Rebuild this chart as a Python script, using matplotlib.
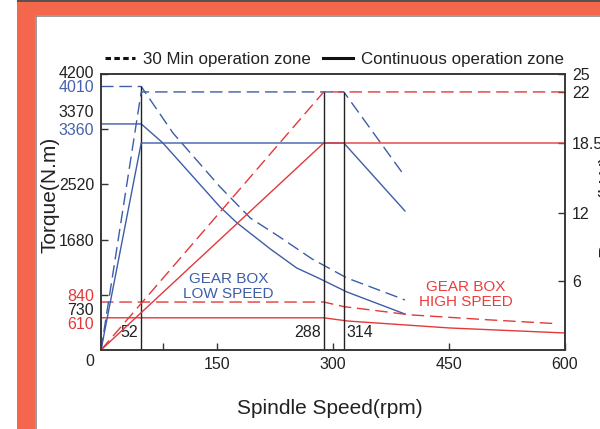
"""
Spindle torque / power diagram (gear box low & high speed).
"""

import numpy as np
import matplotlib
matplotlib.use('Agg')
import matplotlib.pyplot as plt
from matplotlib.lines import Line2D
from matplotlib.patches import Rectangle
from matplotlib.transforms import offset_copy

plt.rcParams['font.family'] = ['Liberation Sans', 'DejaVu Sans']

# ---- data ----
# gear box low speed, torque (N.m)
rpm_low_s6_torque = [0, 52, 93, 154, 193, 231, 273, 318, 383, 393]
torque_low_s6 = [4010, 4010, 3303, 2481, 2009, 1720, 1385, 1096, 807, 761]
rpm_low_s1_torque = [0, 52, 80, 154, 176, 219, 253, 281, 318, 393]
torque_low_s1 = [3440, 3440, 3151, 2176, 1933, 1537, 1248, 1096, 883, 548]

# gear box low speed, power (kW)
rpm_low_power = [0, 52, 314, 393]
power_low_s6 = [0, 22, 22, 15.4]
power_low_s1 = [0, 18.5, 18.5, 12.2]

# gear box high speed, torque (N.m)
rpm_high_s6_torque = [0, 288, 314, 400, 500, 590]
torque_high_s6 = [730, 730, 660, 535, 460, 400]
rpm_high_s1_torque = [0, 288, 319, 451, 600]
torque_high_s1 = [490, 490, 441, 335, 259]

# gear box high speed, power (kW)
rpm_high_power = [0, 288, 600]
power_high_s6 = [0, 22, 22]
power_high_s1 = [0, 18.5, 18.5]

# base speeds marked on the chart
base_speeds = [52, 288, 314]

# axis ticks
x_ticks = [150, 300, 450, 600]
torque_ticks = [840, 1680, 2520, 3360, 4200]
torque_tick_colors = ['red', 'k', 'k', 'blue', 'k']
power_ticks = [6, 12, 18.5, 22, 25]

# the power axis in the reference is drawn unevenly; calibration of
# value -> relative height (0..1) taken from the printed tick positions
power_cal_values = [0, 6, 12, 18.5, 22, 25]
power_cal_heights = [0, 0.25, 0.496, 0.75, 0.935, 1.0]

BLUE = '#3d5da8'
RED = '#e3393a'
TXT = '#222222'
COLS = {'red': '#e3393a', 'blue': '#4563ab', 'k': TXT}


def p_fwd(v):
    v = np.asarray(v, dtype=float)
    return np.interp(v, power_cal_values, power_cal_heights,
                     left=-1, right=2)


def p_inv(h):
    h = np.asarray(h, dtype=float)
    return np.interp(h, power_cal_heights, power_cal_values)


fig = plt.figure(figsize=(6, 4.29), dpi=100)
fig.patch.set_facecolor('white')

# page frame (orange border of the source page)
fig.patches.append(Rectangle((17/600, 0), 18/600, 1, transform=fig.transFigure,
                             facecolor='#f4674c', edgecolor='none', zorder=0))
fig.patches.append(Rectangle((17/600, 1 - 15/429), 583/600, 15/429,
                             transform=fig.transFigure,
                             facecolor='#f4674c', edgecolor='none', zorder=0))
fig.patches.append(Rectangle((17/600, 1 - 2/429), 583/600, 2/429,
                             transform=fig.transFigure,
                             facecolor='#5a5250', edgecolor='none', zorder=1))
fig.lines.append(Line2D([35.5/600, 35.5/600], [0, 1 - 15.5/429],
                        transform=fig.transFigure, color='#8a8a8a', lw=1.2))
fig.lines.append(Line2D([35.5/600, 1], [1 - 15.5/429, 1 - 15.5/429],
                        transform=fig.transFigure, color='#8a8a8a', lw=1.2))

ax = fig.add_axes([101/600, 1 - 350/429, 464/600, 276/429])
ax2 = ax.twinx()
ax2.set_yscale('function', functions=(p_fwd, p_inv))

dash = (9, 4.2)
lw = 1.0

# torque curves
ax.plot(rpm_low_s6_torque, torque_low_s6, color=BLUE, lw=lw, dashes=dash)
ax.plot(rpm_low_s1_torque, torque_low_s1, color=BLUE, lw=lw)
ax.plot(rpm_high_s6_torque, torque_high_s6, color=RED, lw=lw, dashes=dash)
ax.plot(rpm_high_s1_torque, torque_high_s1, color=RED, lw=lw)

# power curves
ax2.plot(rpm_low_power, power_low_s6, color=BLUE, lw=lw, dashes=dash)
ax2.plot(rpm_low_power, power_low_s1, color=BLUE, lw=lw)
ax2.plot(rpm_high_power, power_high_s6, color=RED, lw=lw, dashes=dash)
ax2.plot(rpm_high_power, power_high_s1, color=RED, lw=lw)

# base speed markers
ax.vlines(base_speeds[0], 0, torque_low_s6[0], color='#222222', lw=1.0)
ax2.vlines(base_speeds[1:], 0, power_high_s6[-1], color='#222222', lw=1.0)
ax.annotate(str(base_speeds[0]), (base_speeds[0], 0), xytext=(-2, 7),
            textcoords='offset points', ha='right', va='bottom',
            fontsize=11.5, color=TXT)
ax.annotate(str(base_speeds[1]), (base_speeds[1], 0), xytext=(-2, 7),
            textcoords='offset points', ha='right', va='bottom',
            fontsize=11.5, color=TXT)
ax.annotate(str(base_speeds[2]), (base_speeds[2], 0), xytext=(2, 7),
            textcoords='offset points', ha='left', va='bottom',
            fontsize=11.5, color=TXT)

# limits and ticks
ax.set_xlim(0, 600)
ax.set_ylim(0, 4200)
ax2.set_ylim(0, 25)

ax.set_xticks(x_ticks)
ax.set_xticklabels([str(t) for t in x_ticks])
ax.set_xticks([80], minor=True)
ax.set_yticks(torque_ticks)
ax.set_yticklabels([str(t) for t in torque_ticks])
ax2.set_yticks(power_ticks)
ax2.set_yticklabels(['6', '12', '18.5', '22', '25'])
ax2.yaxis.set_minor_locator(matplotlib.ticker.NullLocator())

for a in (ax, ax2):
    a.tick_params(direction='in', length=5, width=1.0, color='#333333',
                  labelsize=11.5, labelcolor=TXT, pad=5)
    for s in a.spines.values():
        s.set_color('#333333')
        s.set_linewidth(1.1)
ax.tick_params(axis='x', which='minor', direction='in', length=5, width=1.0,
               color='#333333')
for lab, c in zip(ax.get_yticklabels(), torque_tick_colors):
    lab.set_color(COLS[c])
# top tick label sits a little above its tick in the reference
top_lab = ax.get_yticklabels()[-1]
top_lab.set_transform(offset_copy(top_lab.get_transform(), fig=fig,
                                  x=0, y=2.5, units='dots'))

# extra torque values printed beside the axis
extra = [(4010, '4010', 'blue', -1), (3370, '3370', 'k', 11.5),
         (730, '730', 'k', -6), (610, '610', 'red', -10.5)]
for val, txt, c, dy in extra:
    ax.annotate(txt, (0, val), xycoords=('axes fraction', 'data'),
                xytext=(-5, dy), textcoords='offset points',
                ha='right', va='center', fontsize=11.5, color=COLS[c])
ax.annotate('0', (0, 0), xycoords='axes fraction', xytext=(-8, -8),
            textcoords='offset points', ha='center', va='center',
            fontsize=11.5, color=TXT)

# gear box annotations
ax.text(165, 960, 'GEAR BOX\nLOW SPEED', color=BLUE, fontsize=11,
        ha='center', va='center', linespacing=1.1)
ax.text(472, 850, 'GEAR BOX\nHIGH SPEED', color='#ee3b3b', fontsize=11,
        ha='center', va='center', linespacing=1.1)

# axis titles
fig.text(50/600, 1 - 195/429, 'Torque(N.m)', rotation=90, ha='center',
         va='center', fontsize=15, color=TXT)
fig.text(330/600, 1 - 409/429, 'Spindle Speed(rpm)', ha='center',
         va='center', fontsize=15, color=TXT)
fig.text(607/600, 1 - 205/429, 'Power(kW)', rotation=90, ha='center',
         va='center', fontsize=15, color=TXT)

# legend on top
handles = [Line2D([0], [0], color='#111111', lw=2.2, dashes=(1.8, 1.1)),
           Line2D([0], [0], color='#111111', lw=2.2)]
ax.legend(handles, ['30 Min operation zone', 'Continuous operation zone'],
          ncol=2, frameon=False, loc='center left',
          bbox_to_anchor=(0.008, 1.052), borderpad=0, borderaxespad=0,
          handlelength=1.8, handletextpad=0.45, columnspacing=0.7,
          fontsize=12.2, labelcolor=TXT)

fig.savefig('out.png', dpi=100, facecolor='white')
